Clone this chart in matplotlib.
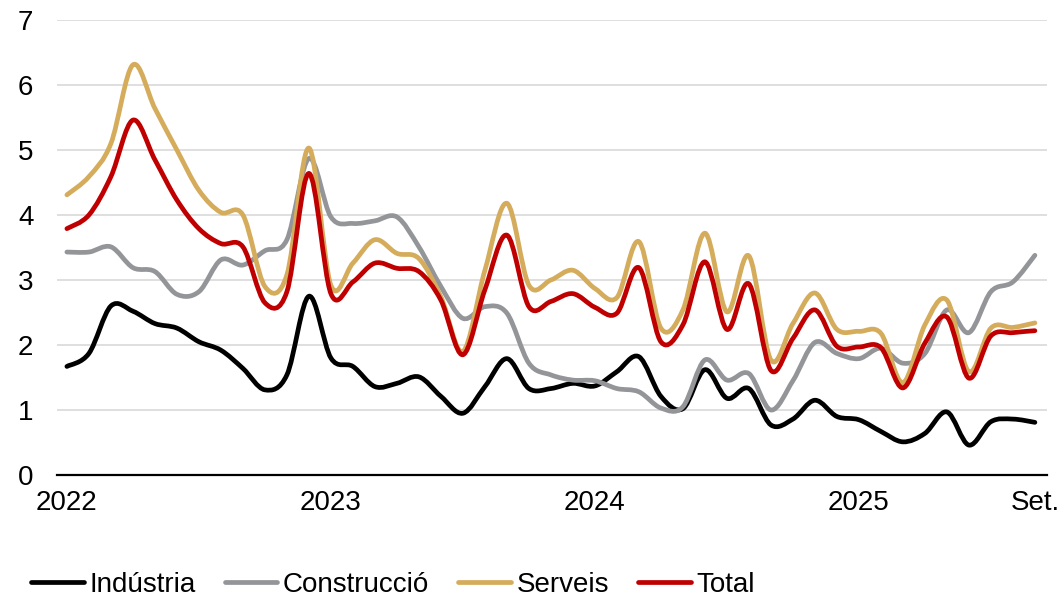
import numpy as np
import matplotlib
matplotlib.use("Agg")
import matplotlib.pyplot as plt
from matplotlib.path import Path
from matplotlib.patches import PathPatch
from matplotlib.lines import Line2D

plt.rcParams['font.family'] = ['Liberation Sans', 'DejaVu Sans']

# Monthly values, Jan 2022 .. Sep 2025
months = np.arange(45)
industria = [1.67, 1.87, 2.60, 2.52, 2.33, 2.26, 2.05, 1.92, 1.64, 1.31, 1.54, 2.75,
             1.80, 1.67, 1.36, 1.41, 1.51, 1.21, 0.95, 1.36, 1.79, 1.33, 1.33, 1.41,
             1.37, 1.59, 1.82, 1.21, 1.02, 1.62, 1.18, 1.33, 0.77, 0.86, 1.15, 0.90,
             0.85, 0.67, 0.51, 0.64, 0.97, 0.46, 0.82, 0.86, 0.81]
construccio = [3.43, 3.43, 3.51, 3.19, 3.13, 2.78, 2.82, 3.31, 3.23, 3.45, 3.62, 4.87,
               3.97, 3.87, 3.91, 3.97, 3.51, 2.90, 2.41, 2.59, 2.49, 1.72, 1.54, 1.46,
               1.45, 1.33, 1.28, 1.03, 1.05, 1.77, 1.46, 1.56, 1.00, 1.45, 2.04, 1.87,
               1.79, 1.95, 1.72, 1.87, 2.54, 2.19, 2.82, 2.97, 3.38]
serveis = [4.31, 4.59, 5.10, 6.31, 5.64, 5.00, 4.38, 4.04, 4.00, 2.90, 3.08, 5.03,
           2.92, 3.26, 3.62, 3.41, 3.33, 2.74, 1.90, 3.15, 4.18, 2.92, 3.00, 3.15,
           2.87, 2.73, 3.59, 2.26, 2.54, 3.72, 2.51, 3.37, 1.77, 2.33, 2.80, 2.24,
           2.21, 2.18, 1.42, 2.31, 2.69, 1.59, 2.26, 2.27, 2.34]
total = [3.79, 4.00, 4.59, 5.46, 4.85, 4.23, 3.79, 3.56, 3.51, 2.65, 2.82, 4.64,
         2.79, 2.97, 3.26, 3.18, 3.13, 2.69, 1.85, 2.85, 3.69, 2.59, 2.67, 2.79,
         2.58, 2.49, 3.19, 2.05, 2.31, 3.28, 2.24, 2.94, 1.61, 2.10, 2.54, 1.98,
         1.97, 1.96, 1.34, 2.03, 2.43, 1.49, 2.14, 2.19, 2.22]

series_names = ['Indústria', 'Construcció', 'Serveis', 'Total']
series_colors = ['#000000', '#939598', '#D4AC5B', '#C00000']
tick_pos = [0, 12, 24, 36, 44]
tick_labels = ['2022', '2023', '2024', '2025', 'Set.']


def smooth_path(x, y):
    # Excel-like smoothed line: cubic Bezier segments through the points
    pts = np.column_stack([x, y]).astype(float)
    n = len(pts)
    verts = [pts[0]]
    codes = [Path.MOVETO]
    for i in range(n - 1):
        p0 = pts[i - 1] if i > 0 else pts[i]
        p1 = pts[i]
        p2 = pts[i + 1]
        p3 = pts[i + 2] if i + 2 < n else pts[i + 1]
        c1 = p1 + (p2 - p0) / 6.0
        c2 = p2 - (p3 - p1) / 6.0
        verts += [c1, c2, p2]
        codes += [Path.CURVE4] * 3
    return Path(verts, codes)


fig = plt.figure(figsize=(10.61, 5.98), dpi=100)
ax = fig.add_axes([57 / 1061, 123 / 598, 990 / 1061, 455 / 598])

for vals, col in zip([industria, construccio, serveis, total], series_colors):
    patch = PathPatch(smooth_path(months, vals), fill=False, edgecolor=col,
                      linewidth=3.4, capstyle='round', joinstyle='round', zorder=3)
    ax.add_patch(patch)

ax.set_xlim(-0.45, 44.55)
ax.set_ylim(0, 7)
ax.set_yticks(range(8))
ax.set_xticks(tick_pos)
ax.set_xticklabels(tick_labels)
ax.tick_params(axis='both', length=0, labelsize=20)
ax.tick_params(axis='y', pad=17)
ax.tick_params(axis='x', pad=11)
ax.grid(True, axis='y', color='#D9D9D9', linewidth=1.2)
ax.set_axisbelow(True)
for side in ['top', 'right', 'left']:
    ax.spines[side].set_visible(False)
ax.spines['bottom'].set_linewidth(1.6)
ax.spines['bottom'].set_color('black')
ax.spines['bottom'].set_zorder(4)

handles = [Line2D([0], [0], color=c, linewidth=3.4, solid_capstyle='round')
           for c in series_colors]
fig.legend(handles, series_names, loc='center left', bbox_to_anchor=(0.029, 1 - 585 / 598),
           ncol=4, frameon=False, fontsize=20, handlelength=1.9, handletextpad=0.2,
           columnspacing=1.05, borderpad=0, borderaxespad=0)

fig.savefig('out.png', dpi=100)
